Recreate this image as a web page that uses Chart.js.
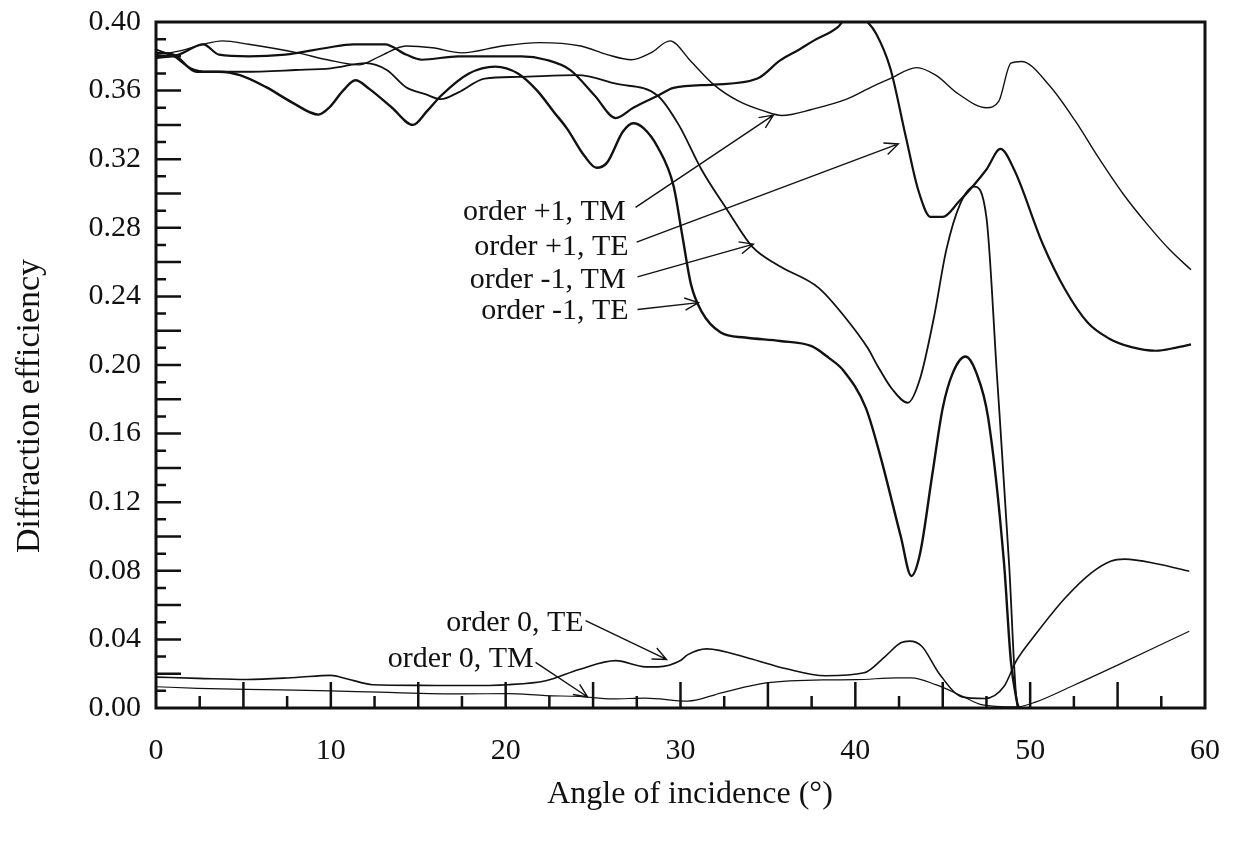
<!DOCTYPE html>
<html>
<head>
<meta charset="utf-8">
<script src="https://cdn.jsdelivr.net/npm/chart.js@4.4.1/dist/chart.umd.min.js"></script>
<style>
  body { margin: 0; background: #fff; }
  #wrap { width: 1240px; height: 842px; position: relative; }
</style>
</head>
<body>
<div id="wrap"><canvas id="chart"></canvas></div>
<script>
// order +1, TM
const p1tmX = [0, 1.3, 2.7, 3.8, 5.3, 8.1, 9.8, 11.6, 12.8, 14.3, 15.8, 17.5, 19.8, 21.9, 24.3, 25.8, 27.2, 28.3, 29.4, 30.6, 31.9, 33.3, 34.8, 35.8, 37.5, 39.5, 41.0, 42.0, 43.5, 44.6, 45.9, 47.5, 48.2, 48.9, 49.5, 51.1, 52.6, 53.9, 55.3, 56.7, 58.0, 59.2];
const p1tmY = [0.381, 0.383, 0.387, 0.389, 0.387, 0.382, 0.378, 0.375, 0.380, 0.386, 0.385, 0.382, 0.386, 0.388, 0.386, 0.381, 0.378, 0.382, 0.389, 0.377, 0.3635, 0.354, 0.348, 0.3455, 0.349, 0.355, 0.3625, 0.367, 0.3734, 0.369, 0.358, 0.350, 0.3537, 0.376, 0.377, 0.363, 0.342, 0.321, 0.300, 0.282, 0.267, 0.2555];

// order +1, TE
const p1teX = [0, 1.3, 2.7, 3.6, 5.3, 7.4, 8.1, 9.8, 11.3, 13.1, 14.3, 15.2, 17.3, 20.9, 22.3, 23.7, 25.1, 26.3, 27.3, 28.7, 29.6, 31.9, 34.4, 35.7, 36.8, 37.6, 39.0, 39.8, 40.6, 41.2, 42.0, 42.9, 43.6, 44.3, 45.0, 45.9, 47.5, 48.3, 49.1, 50.7, 52.0, 53.3, 54.5, 55.8, 57.2, 58.3, 59.2];
const p1teY = [0.379, 0.381, 0.387, 0.381, 0.380, 0.381, 0.382, 0.385, 0.387, 0.387, 0.381, 0.378, 0.380, 0.380, 0.378, 0.372, 0.357, 0.344, 0.350, 0.357, 0.3616, 0.3635, 0.367, 0.3776, 0.384, 0.389, 0.397, 0.406, 0.401, 0.393, 0.373, 0.3325, 0.302, 0.2864, 0.2864, 0.295, 0.314, 0.326, 0.3135, 0.271, 0.244, 0.2246, 0.2155, 0.2104, 0.2083, 0.210, 0.212];

// order -1, TM
const m1tmX = [0, 1.0, 2.0, 3.0, 5.0, 8.0, 10.0, 12.0, 13.2, 14.3, 15.4, 16.3, 17.3, 18.8, 20.7, 24.1, 26.3, 28.7, 29.9, 31.2, 32.7, 34.1, 35.6, 37.9, 39.4, 40.7, 41.3, 42.1, 43.0, 43.7, 44.5, 45.2, 46.0, 46.8, 47.5, 48.1, 48.8, 49.2, 49.4];
const m1tmY = [0.384, 0.380, 0.373, 0.371, 0.371, 0.372, 0.373, 0.376, 0.372, 0.362, 0.358, 0.355, 0.359, 0.367, 0.368, 0.369, 0.364, 0.357, 0.340, 0.314, 0.290, 0.269, 0.258, 0.245, 0.228, 0.210, 0.199, 0.186, 0.178, 0.192, 0.228, 0.267, 0.294, 0.304, 0.286, 0.194, 0.083, 0.007, 0.0];

// order -1, TE
const m1teX = [0, 1.0, 2.3, 3.6, 4.8, 6.3, 7.8, 9.3, 9.9, 10.7, 11.4, 12.2, 13.5, 14.7, 15.5, 16.3, 17.9, 19.4, 20.7, 21.8, 22.8, 23.5, 24.5, 25.2, 25.8, 26.7, 27.3, 27.9, 28.7, 29.6, 30.1, 30.6, 31.2, 32.3, 33.7, 35.7, 37.5, 38.5, 39.3, 40.6, 41.4, 42.6, 43.2, 43.7, 44.4, 45.0, 45.6, 46.3, 46.9, 47.6, 48.5, 48.9, 49.3];
const m1teY = [0.382, 0.381, 0.371, 0.371, 0.369, 0.362, 0.353, 0.346, 0.350, 0.360, 0.366, 0.361, 0.350, 0.340, 0.348, 0.357, 0.370, 0.374, 0.370, 0.360, 0.347, 0.338, 0.322, 0.315, 0.318, 0.336, 0.341, 0.338, 0.327, 0.3045, 0.2757, 0.247, 0.2313, 0.219, 0.216, 0.214, 0.211, 0.204, 0.197, 0.175, 0.148, 0.100, 0.077, 0.090, 0.136, 0.175, 0.196, 0.205, 0.196, 0.169, 0.085, 0.027, 0.0];

// order 0, TE
const z0teX = [0, 2.4, 5.2, 8.0, 10.0, 10.9, 12.4, 15.1, 17.6, 20.1, 22.3, 24.2, 26.3, 28.0, 28.7, 30.0, 30.4, 31.5, 33.9, 36.0, 38.3, 40.5, 41.7, 42.6, 43.1, 43.8, 44.8, 46.1, 47.4, 48.5, 49.2, 50.3, 52.0, 53.5, 54.6, 55.4, 57.3, 59.1];
const z0teY = [0.018, 0.0173, 0.0166, 0.0178, 0.019, 0.0171, 0.0136, 0.0132, 0.0131, 0.0136, 0.0159, 0.0225, 0.0276, 0.024, 0.024, 0.0277, 0.031, 0.0345, 0.029, 0.023, 0.0188, 0.0205, 0.030, 0.038, 0.039, 0.036, 0.020, 0.0065, 0.0055, 0.0125, 0.0274, 0.0428, 0.0641, 0.0788, 0.0856, 0.0868, 0.084, 0.0797];

// order 0, TM
const z0tmX = [0, 2.4, 5.2, 10.0, 12.8, 17.6, 20.1, 22.3, 24.2, 26.1, 28.0, 30.4, 32.4, 34.9, 38.3, 40.0, 42.4, 43.2, 44.6, 46.1, 47.2, 49.2, 50.3, 52.4, 55.0, 59.1];
const z0tmY = [0.0124, 0.0115, 0.0109, 0.0100, 0.0092, 0.0082, 0.0084, 0.0072, 0.0067, 0.0053, 0.0058, 0.004, 0.009, 0.0146, 0.0164, 0.0165, 0.0176, 0.0176, 0.0136, 0.007, 0.002, 0.0006, 0.0034, 0.0128, 0.025, 0.0448];

const xTicks = [0, 10, 20, 30, 40, 50, 60];
const yTicks = [0, 0.04, 0.08, 0.12, 0.16, 0.20, 0.24, 0.28, 0.32, 0.36, 0.40];

// curve labels and their arrows (data units)
const noteText = ['order +1, TM', 'order +1, TE', 'order -1, TM', 'order -1, TE', 'order 0, TE', 'order 0, TM'];
const noteX = [26.86, 27.03, 26.86, 27.03, 24.46, 21.6];
const noteY = [0.289, 0.2688, 0.2497, 0.2312, 0.0497, 0.0283];
const arrowFrom = [[27.43, 0.2919], [27.49, 0.2717], [27.54, 0.2514], [27.54, 0.2324], [24.57, 0.0509], [21.71, 0.0266]];
const arrowTo = [[35.31, 0.3457], [42.46, 0.3289], [34.17, 0.2705], [31.03, 0.2364], [29.2, 0.0283], [24.69, 0.0064]];

const serif = '"Liberation Serif", "Times New Roman", serif';
const ink = '#111';

function pts(xs, ys) {
  return xs.map((x, i) => ({ x: x, y: ys[i] }));
}

function line(label, xs, ys, w) {
  return {
    label: label,
    data: pts(xs, ys),
    borderColor: ink,
    borderWidth: w,
    pointRadius: 0,
    fill: false,
    cubicInterpolationMode: 'monotone',
    clip: 0
  };
}

const frameAndNotes = {
  id: 'frameAndNotes',
  afterDatasetsDraw(chart) {
    const { ctx, chartArea: a, scales: { x, y } } = chart;
    ctx.save();
    ctx.strokeStyle = ink;
    ctx.lineWidth = 3;
    ctx.strokeRect(a.left, a.top, a.right - a.left, a.bottom - a.top);

    // inward ticks
    ctx.lineWidth = 2.5;
    ctx.beginPath();
    for (let i = 1; i < 40; i++) {
      const py = y.getPixelForValue(i * 0.01);
      const len = i % 2 === 0 ? 25 : 10;
      ctx.moveTo(a.left, py);
      ctx.lineTo(a.left + len, py);
    }
    for (let i = 1; i < 24; i++) {
      const px = x.getPixelForValue(i * 2.5);
      const len = i % 2 === 0 ? 26 : 12;
      ctx.moveTo(px, a.bottom);
      ctx.lineTo(px, a.bottom - len);
    }
    ctx.stroke();

    // arrows
    ctx.lineWidth = 1.4;
    for (let i = 0; i < arrowFrom.length; i++) {
      const x0 = x.getPixelForValue(arrowFrom[i][0]), y0 = y.getPixelForValue(arrowFrom[i][1]);
      const x1 = x.getPixelForValue(arrowTo[i][0]), y1 = y.getPixelForValue(arrowTo[i][1]);
      const ang = Math.atan2(y1 - y0, x1 - x0);
      ctx.beginPath();
      ctx.moveTo(x0, y0);
      ctx.lineTo(x1, y1);
      ctx.moveTo(x1 - 15 * Math.cos(ang - 0.42), y1 - 15 * Math.sin(ang - 0.42));
      ctx.lineTo(x1, y1);
      ctx.lineTo(x1 - 15 * Math.cos(ang + 0.42), y1 - 15 * Math.sin(ang + 0.42));
      ctx.stroke();
    }

    // labels
    ctx.fillStyle = ink;
    ctx.font = '30px ' + serif;
    ctx.textAlign = 'right';
    ctx.textBaseline = 'middle';
    for (let i = 0; i < noteText.length; i++) {
      ctx.fillText(noteText[i], x.getPixelForValue(noteX[i]), y.getPixelForValue(noteY[i]));
    }

    // axis titles
    ctx.textAlign = 'center';
    ctx.font = '32px ' + serif;
    ctx.fillText('Angle of incidence (°)', 690, 795);
    ctx.translate(30, 406);
    ctx.rotate(-Math.PI / 2);
    ctx.font = '34px ' + serif;
    ctx.fillText('Diffraction efficiency', 0, 0);
    ctx.restore();
  }
};

new Chart(document.getElementById('chart'), {
  type: 'line',
  data: {
    datasets: [
      line('order +1, TM', p1tmX, p1tmY, 1.4),
      line('order +1, TE', p1teX, p1teY, 2.2),
      line('order -1, TM', m1tmX, m1tmY, 1.8),
      line('order -1, TE', m1teX, m1teY, 2.4),
      line('order 0, TE', z0teX, z0teY, 1.6),
      line('order 0, TM', z0tmX, z0tmY, 1.2)
    ]
  },
  options: {
    responsive: true,
    maintainAspectRatio: false,
    animation: false,
    layout: { padding: { top: 16, right: 33, left: 0, bottom: 0 } },
    plugins: { legend: { display: false }, tooltip: { enabled: false } },
    scales: {
      x: {
        type: 'linear',
        min: 0,
        max: 60,
        grid: { display: false },
        border: { display: false },
        afterFit: s => { s.height = 134; },
        afterBuildTicks: s => { s.ticks = xTicks.map(v => ({ value: v })); },
        ticks: { padding: 20, color: ink, font: { family: serif, size: 30, lineHeight: 1 } }
      },
      y: {
        type: 'linear',
        min: 0,
        max: 0.4,
        grid: { display: false },
        border: { display: false },
        afterFit: s => { s.width = 156; },
        afterBuildTicks: s => { s.ticks = yTicks.map(v => ({ value: v })); },
        ticks: { padding: 7, color: ink, font: { family: serif, size: 30, lineHeight: 1 },
          callback: v => Number(v).toFixed(2) }
      }
    }
  },
  plugins: [frameAndNotes]
});
</script>
</body>
</html>
